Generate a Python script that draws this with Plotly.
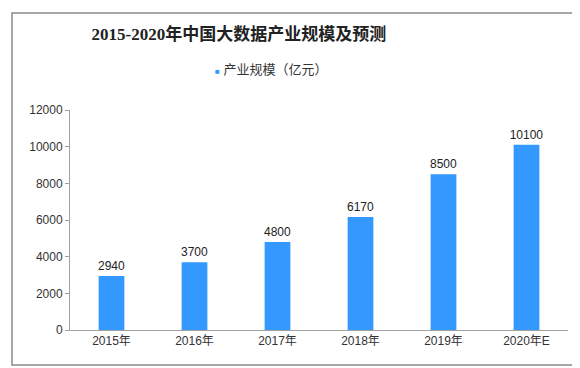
import plotly.graph_objects as go

categories = ["2015年", "2016年", "2017年", "2018年", "2019年", "2020年E"]
values = [2940, 3700, 4800, 6170, 8500, 10100]
series_name = "产业规模（亿元）"
title_text = "2015-2020年中国大数据产业规模及预测"
y_ticks = [0, 2000, 4000, 6000, 8000, 10000, 12000]

bar_color = "#3399FF"
axis_color = "#A0A0A0"
sans = "Liberation Sans, Noto Sans CJK SC, sans-serif"

fig = go.Figure()
fig.add_trace(go.Bar(
    x=categories, y=values, name=series_name,
    marker=dict(color=bar_color, line=dict(width=0)),
    width=0.31, showlegend=False,
    text=[str(v) for v in values], textposition="outside",
    constraintext="none",
    textfont=dict(family=sans, size=12, color="#222222"),
    cliponaxis=False,
))

fig.update_layout(
    width=580, height=368,
    margin=dict(l=62, r=20, t=102, b=46),
    paper_bgcolor="white", plot_bgcolor="white",
    title=dict(text="<b>" + title_text + "</b>", x=0.398, xanchor="center",
               y=1 - 26 / 368, yanchor="middle", xref="container", yref="container",
               font=dict(family="Liberation Serif, Noto Sans CJK SC, serif", size=17, color="#222222")),
    annotations=[dict(
        text="<span style='color:" + bar_color + ";font-size:8px'>■</span> " + series_name,
        xref="paper", yref="paper", x=(205 - 62) / 498, xanchor="left",
        y=(322 - 62) / 220, yanchor="middle", showarrow=False,
        font=dict(family=sans, size=13, color="#333333"))],
    yaxis=dict(range=[0, 12000], tickvals=y_ticks, ticktext=[str(t) for t in y_ticks],
               showgrid=False, zeroline=False,
               showline=True, linecolor=axis_color, linewidth=1,
               ticks="outside", ticklen=4, tickcolor=axis_color,
               tickfont=dict(family=sans, size=12, color="#333333")),
    xaxis=dict(showgrid=False, showline=True, linecolor=axis_color, linewidth=1,
               ticks="", tickfont=dict(family=sans, size=12, color="#333333")),
    shapes=[dict(type="rect", xref="paper", yref="paper",
                 x0=(4 - 62) / 498, x1=(573 - 62) / 498,
                 y0=(322 - 357) / 220, y1=(322 - 5) / 220,
                 line=dict(color="#8A8A8A", width=1.5), fillcolor="rgba(0,0,0,0)")],
)

fig.write_html("out.html")
